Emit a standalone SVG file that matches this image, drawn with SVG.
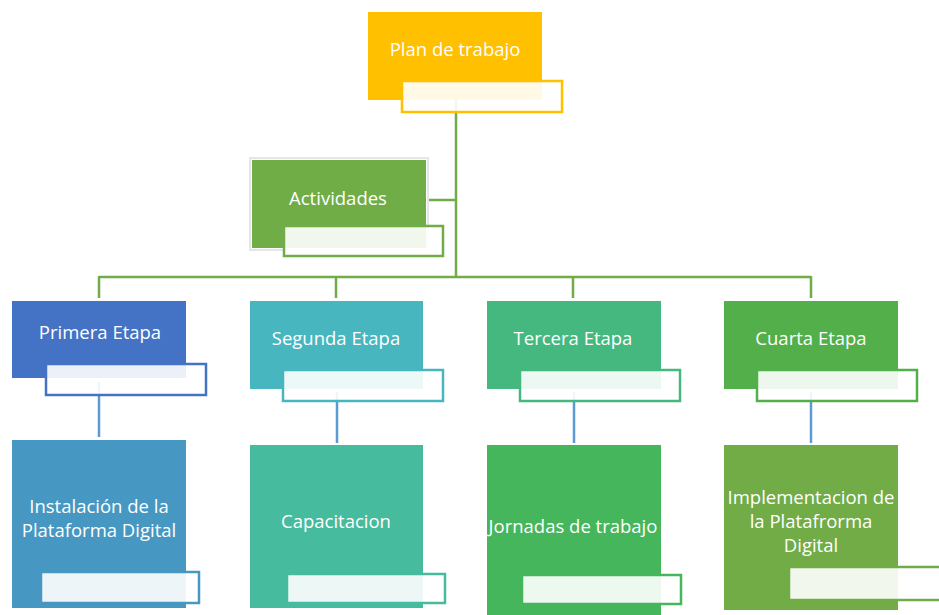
<svg xmlns="http://www.w3.org/2000/svg" width="939" height="615" viewBox="0 0 939 615">
<style>
.t{font-family:"Open Sans","Noto Sans","Liberation Sans",sans-serif;font-size:18.5px;fill:#ffffff;text-anchor:middle}
.ov{fill:#ffffff;fill-opacity:0.9;stroke-width:2.5}
.cg{stroke:#70AD47;stroke-width:2.5;fill:none}
.cb{stroke:#5B9BD5;stroke-width:2.5;fill:none}
</style>
<rect width="939" height="615" fill="#ffffff"/>
<g id="connectors">
<path class="cg" d="M456 100V277M428 200H456M99 277H811M99 276V298M336 276V298M573 276V298M811 276V298"/>
<path class="cb" d="M99 382V437M337 392V443M574 392V443M811 392V443"/>
</g>
<g id="plan">
<rect x="368" y="12" width="174" height="88" fill="#FFC000"/>
<rect class="ov" x="402" y="81" width="160" height="31" stroke="#FFC000"/>
<text class="t" x="455" y="56">Plan de trabajo</text>
</g>
<g id="actividades">
<rect x="250" y="158" width="178" height="92" fill="none" stroke="#e6e6e6" stroke-width="2"/>
<rect x="252" y="160" width="174" height="88" fill="#70AD47"/>
<rect class="ov" x="284" y="226" width="159" height="30" stroke="#70AD47"/>
<text class="t" x="338" y="205">Actividades</text>
</g>
<g id="primera">
<rect x="12" y="301" width="174" height="77" fill="#4472C4"/>
<rect class="ov" x="46" y="364" width="160" height="31" stroke="#4472C4"/>
<text class="t" x="100" y="339">Primera Etapa</text>
</g>
<g id="segunda">
<rect x="250" y="301" width="173" height="88" fill="#47B6BF"/>
<rect class="ov" x="283" y="370" width="160" height="31" stroke="#47B6BF"/>
<text class="t" x="336" y="345">Segunda Etapa</text>
</g>
<g id="tercera">
<rect x="487" y="301" width="174" height="88" fill="#45B87F"/>
<rect class="ov" x="520" y="370" width="160" height="31" stroke="#45B87F"/>
<text class="t" x="573" y="345">Tercera Etapa</text>
</g>
<g id="cuarta">
<rect x="724" y="301" width="174" height="88" fill="#52AF49"/>
<rect class="ov" x="757" y="370" width="160" height="31" stroke="#52AF49"/>
<text class="t" x="811" y="345">Cuarta Etapa</text>
</g>
<g id="instalacion">
<rect x="12" y="440" width="174" height="168" fill="#4697C1"/>
<rect class="ov" x="41" y="572" width="158" height="31" stroke="#4697C1"/>
<text class="t" x="99" y="513">Instalación de la</text>
<text class="t" x="99" y="537">Plataforma Digital</text>
</g>
<g id="capacitacion">
<rect x="250" y="445" width="173" height="163" fill="#46BB9E"/>
<rect class="ov" x="287" y="574" width="158" height="29" stroke="#46BB9E"/>
<text class="t" x="336" y="528">Capacitacion</text>
</g>
<g id="jornadas">
<rect x="487" y="445" width="174" height="170" fill="#45B65B"/>
<rect class="ov" x="522" y="575" width="159" height="29" stroke="#45B65B"/>
<text class="t" x="573" y="533">Jornadas de trabajo</text>
</g>
<g id="implementacion">
<rect x="724" y="445" width="174" height="165" fill="#71AC47"/>
<rect class="ov" x="789" y="567" width="160" height="33" stroke="#71AC47"/>
<text class="t" x="811" y="504">Implementacion de</text>
<text class="t" x="811" y="528">la Platafrorma</text>
<text class="t" x="811" y="552">Digital</text>
</g>
</svg>
